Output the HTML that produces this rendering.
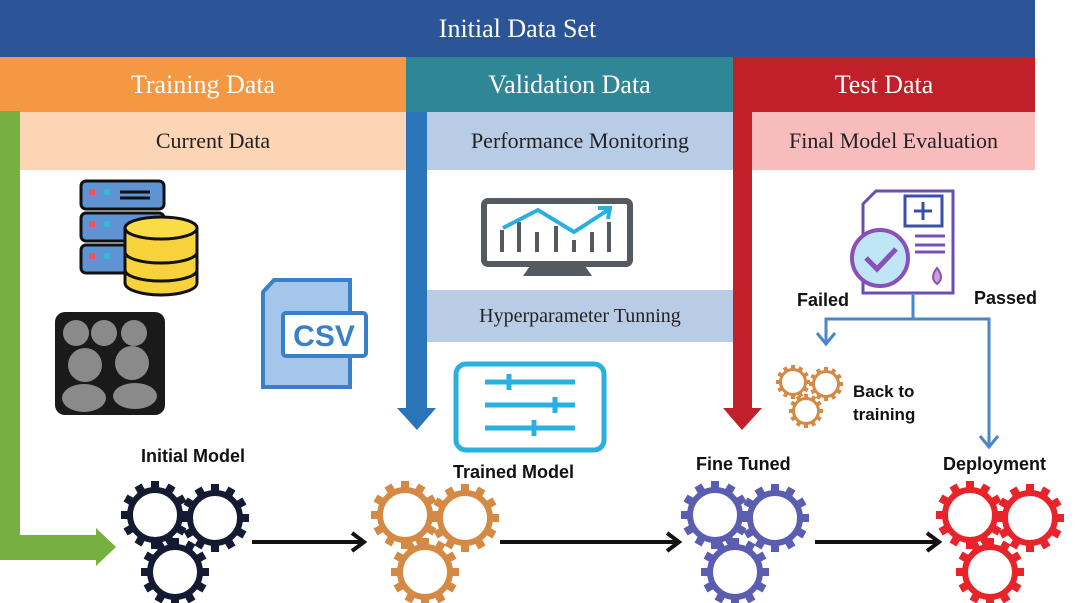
<!DOCTYPE html>
<html><head><meta charset="utf-8"><style>
body{margin:0;width:1080px;height:603px;overflow:hidden;background:#fff;position:relative;font-family:"Liberation Serif",serif}
.b{position:absolute;display:flex;align-items:center;justify-content:center}
.s{font-family:"Liberation Sans",sans-serif;font-weight:bold;position:absolute;font-size:18px;color:#111;white-space:nowrap}
</style></head><body>
<div class="b" style="left:0;top:0;width:1035px;height:57px;background:#2b5597;color:#fff;font-size:26px">Initial Data Set</div>
<div class="b" style="left:0;top:57px;width:406px;height:55px;background:#f59844;color:#fff;font-size:26px">Training Data</div>
<div class="b" style="left:406px;top:57px;width:327px;height:55px;background:#2e8696;color:#fff;font-size:26px">Validation Data</div>
<div class="b" style="left:733px;top:57px;width:302px;height:55px;background:#c0202a;color:#fff;font-size:26px">Test Data</div>
<div class="b" style="left:20px;top:112px;width:386px;height:58px;background:#fbd5b5;color:#222;font-size:22px">Current Data</div>
<div class="b" style="left:427px;top:112px;width:306px;height:58px;background:#b9cce6;color:#222;font-size:22px">Performance Monitoring</div>
<div class="b" style="left:752px;top:112px;width:283px;height:58px;background:#f8bcbd;color:#222;font-size:22px">Final Model Evaluation</div>
<div class="b" style="left:427px;top:290px;width:306px;height:52px;background:#b9cce6;color:#222;font-size:20px">Hyperparameter Tunning</div>

<svg width="1080" height="603" style="position:absolute;left:0;top:0">
<defs>
<g id="gear">
<circle r="25" fill="none" stroke="currentColor" stroke-width="6"/>
<g fill="currentColor">
<rect x="-4" y="-34" width="8" height="8"/>
<rect x="-4" y="-34" width="8" height="8" transform="rotate(30)"/>
<rect x="-4" y="-34" width="8" height="8" transform="rotate(60)"/>
<rect x="-4" y="-34" width="8" height="8" transform="rotate(90)"/>
<rect x="-4" y="-34" width="8" height="8" transform="rotate(120)"/>
<rect x="-4" y="-34" width="8" height="8" transform="rotate(150)"/>
<rect x="-4" y="-34" width="8" height="8" transform="rotate(180)"/>
<rect x="-4" y="-34" width="8" height="8" transform="rotate(210)"/>
<rect x="-4" y="-34" width="8" height="8" transform="rotate(240)"/>
<rect x="-4" y="-34" width="8" height="8" transform="rotate(270)"/>
<rect x="-4" y="-34" width="8" height="8" transform="rotate(300)"/>
<rect x="-4" y="-34" width="8" height="8" transform="rotate(330)"/>
</g></g>
<g id="g3">
<use href="#gear" x="-20" y="-27"/><use href="#gear" x="40" y="-24"/><use href="#gear" x="0" y="30"/>
</g>
</defs>
<rect x="0" y="111" width="20" height="449" fill="#76b041"/>
<rect x="0" y="535" width="98" height="25" fill="#76b041"/>
<polygon points="96,528 116,547 96,566" fill="#76b041"/>
<rect x="406" y="112" width="21" height="298" fill="#2a75b8"/>
<polygon points="397,408 436,408 417,430" fill="#2a75b8"/>
<rect x="733" y="112" width="19" height="298" fill="#c0202a"/>
<polygon points="723,408 762,408 742,430" fill="#c0202a"/>
<use href="#g3" x="175" y="542" style="color:#151a33"/>
<use href="#g3" x="425" y="542" style="color:#d48a45"/>
<use href="#g3" x="735" y="542" style="color:#5b5db0"/>
<use href="#g3" x="990" y="542" style="color:#e8232a"/>
<g stroke="#111" stroke-width="4" fill="none">
<line x1="252" y1="542" x2="362" y2="542"/><polyline points="352,533 364,542 352,551"/>
<line x1="500" y1="542" x2="677" y2="542"/><polyline points="667,533 679,542 667,551"/>
<line x1="815" y1="542" x2="937" y2="542"/><polyline points="927,533 939,542 927,551"/>
</g>
<g stroke="#111" stroke-width="3">
<rect x="81" y="181" width="83" height="28" rx="5" fill="#5f93d3"/>
<rect x="81" y="213" width="83" height="28" rx="5" fill="#5f93d3"/>
<rect x="81" y="245" width="83" height="28" rx="5" fill="#5f93d3"/>
<path d="M125 228 a40 12 0 0 1 72 0 v55 a36 12 0 0 1 -72 0z" fill="#f7d23a"/>
<ellipse cx="161" cy="228" rx="36" ry="11" fill="#f9dc46"/>
<path d="M125 252 a36 11 0 0 0 72 0 M125 270 a36 11 0 0 0 72 0" fill="none"/>
</g>
<g fill="#e55"><rect x="89" y="189" width="6" height="6"/><rect x="89" y="221" width="6" height="6"/><rect x="89" y="253" width="6" height="6"/></g>
<g fill="#3bc"><rect x="104" y="189" width="6" height="6"/><rect x="104" y="221" width="6" height="6"/><rect x="104" y="253" width="6" height="6"/></g>
<g stroke="#111" stroke-width="3"><line x1="120" y1="192" x2="150" y2="192"/><line x1="120" y1="198" x2="150" y2="198"/></g>
<rect x="55" y="312" width="110" height="103" rx="10" fill="#1a1a1a"/>
<g fill="#8a8a8a"><circle cx="76" cy="333" r="13"/><circle cx="104" cy="333" r="13"/><circle cx="134" cy="333" r="13"/><circle cx="85" cy="365" r="17"/><circle cx="132" cy="363" r="17"/><ellipse cx="84" cy="398" rx="22" ry="14"/><ellipse cx="135" cy="396" rx="22" ry="13"/></g>
<path d="M274 280 H350 V387 H263 V292z" fill="#a4c6ea" stroke="#3a80c8" stroke-width="4"/>
<rect x="283" y="313" width="83" height="43" rx="3" fill="#fff" stroke="#3a80c8" stroke-width="4"/>
<text x="324" y="346" text-anchor="middle" font-family="Liberation Sans,sans-serif" font-weight="bold" font-size="30" fill="#3a80c8">CSV</text>
<rect x="484" y="201" width="146" height="63" rx="4" fill="#fff" stroke="#555a60" stroke-width="6"/>
<polygon points="530,266 585,266 592,276 523,276" fill="#555a60"/>
<g stroke="#555a60" stroke-width="4"><line x1="502" y1="230" x2="502" y2="252"/><line x1="519" y1="222" x2="519" y2="252"/><line x1="537" y1="232" x2="537" y2="252"/><line x1="556" y1="226" x2="556" y2="252"/><line x1="574" y1="240" x2="574" y2="252"/><line x1="592" y1="232" x2="592" y2="252"/><line x1="609" y1="222" x2="609" y2="252"/></g>
<polyline points="503,228 538,210 574,232 608,210" fill="none" stroke="#2ab0e0" stroke-width="4"/>
<polyline points="598,208 610,208 608,219" fill="none" stroke="#2ab0e0" stroke-width="4"/>
<rect x="456" y="364" width="148" height="86" rx="10" fill="#fff" stroke="#2ab0e0" stroke-width="5"/>
<g stroke="#2ab0e0" stroke-width="5"><line x1="485" y1="382" x2="575" y2="382"/><line x1="485" y1="405" x2="575" y2="405"/><line x1="485" y1="428" x2="575" y2="428"/><line x1="509" y1="374" x2="509" y2="390"/><line x1="555" y1="397" x2="555" y2="413"/><line x1="534" y1="420" x2="534" y2="436"/></g>
<path d="M876 191 H953 V293 H863 V204z" fill="#fff" stroke="#6a4fb0" stroke-width="3"/>
<rect x="905" y="196" width="37" height="30" fill="#fff" stroke="#3a4fa8" stroke-width="3"/>
<path d="M923 202v18M914 211h18" stroke="#3a4fa8" stroke-width="3"/>
<g stroke="#7a4fb8" stroke-width="3"><line x1="915" y1="236" x2="945" y2="236"/><line x1="915" y1="245" x2="945" y2="245"/><line x1="915" y1="252" x2="945" y2="252"/></g>
<circle cx="880" cy="258" r="28" fill="#bfe6f4" stroke="#8a4fb8" stroke-width="4"/>
<polyline points="866,258 877,269 896,249" fill="none" stroke="#8a4fb8" stroke-width="5"/>
<path d="M937 268 q-8 10 0 16 q8 -6 0 -16z" fill="#c9a0d8" stroke="#8a4fb8" stroke-width="2"/>
<g stroke="#4a86c8" stroke-width="3" fill="none">
<polyline points="913,293 913,319 826,319 826,343"/><polyline points="913,319 989,319 989,446"/>
<polyline points="817,333 826,344 835,333"/><polyline points="980,436 989,447 998,436"/>
</g>
<g style="color:#d48a45"><use href="#gear" transform="translate(793,382) scale(0.5)"/><use href="#gear" transform="translate(826,384) scale(0.5)"/><use href="#gear" transform="translate(806,411) scale(0.5)"/></g>
</svg>
<div class="s" style="left:797px;top:290px;font-size:18px">Failed</div>
<div class="s" style="left:974px;top:288px;font-size:18px">Passed</div>
<div class="s" style="left:853px;top:380px;font-size:17px;line-height:23px">Back to<br>training</div>
<div class="s" style="left:141px;top:446px">Initial Model</div>
<div class="s" style="left:453px;top:462px">Trained Model</div>
<div class="s" style="left:696px;top:454px">Fine Tuned</div>
<div class="s" style="left:943px;top:454px">Deployment</div>
</body></html>
